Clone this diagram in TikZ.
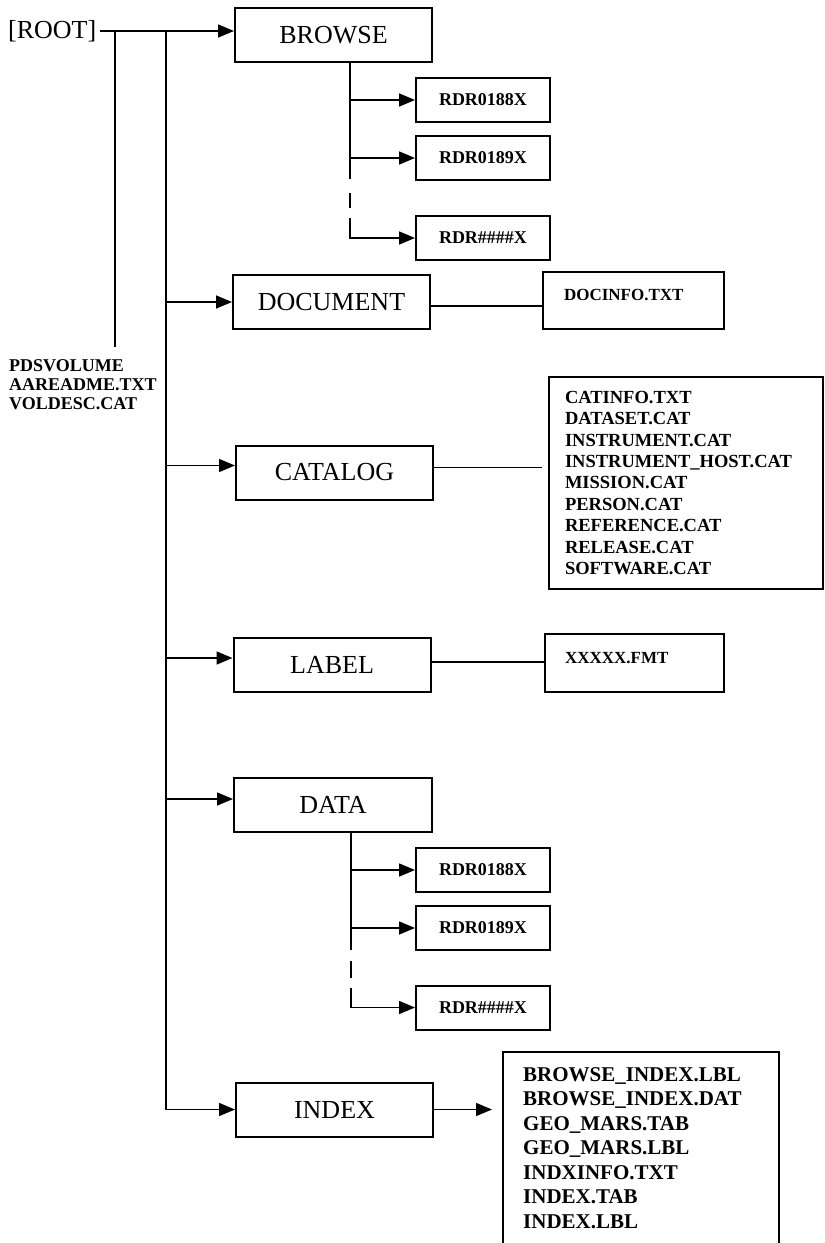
\documentclass[tikz,border=0pt]{standalone}
\usepackage{fontspec}
\setmainfont{Liberation Serif}
\usetikzlibrary{arrows.meta}
\tikzset{
    base/.style={align=center, inner sep=0pt},
    dirbox/.style={base, rectangle, draw, line width=2pt, minimum width=197pt,
                   minimum height=54pt, font=\fontsize{26pt}{30pt}\selectfont},
    subdir/.style={base, rectangle, draw, line width=2pt, minimum width=134pt,
                   minimum height=44pt, font=\bfseries\fontsize{18pt}{20pt}\selectfont},
    filebox/.style={base, rectangle, draw, line width=2pt, align=left,
                    font=\bfseries\fontsize{17pt}{20pt}\selectfont},
    flow/.style={-{Triangle[length=16pt, width=13pt]}, line width=1.6pt},
    link/.style={line width=1.6pt}
}

\begin{document}
\begin{tikzpicture}[x=1pt, y=-1pt]
  \useasboundingbox (0,0) rectangle (825,1243);

  % root and volume files
  \node[base, anchor=west, inner xsep=4pt, font=\fontsize{26pt}{30pt}\selectfont] (root) at (4,31) {[ROOT]};
  \node[base, anchor=north west, align=left, font=\bfseries\fontsize{18pt}{19pt}\selectfont] (volfiles) at (9,359) {
    PDSVOLUME\\
    AAREADME.TXT\\
    VOLDESC.CAT
  };

  % top level directories
  \node[dirbox] (browse) at (333.5,35) {BROWSE};
  \node[dirbox] (document) at (331.5,302) {DOCUMENT};
  \node[dirbox] (catalog) at (334.5,472.5) {CATALOG};
  \node[dirbox] (label) at (332,665) {LABEL};
  \node[dirbox, minimum width=198pt] (data) at (333,805) {DATA};
  \node[dirbox] (index) at (334.5,1109.5) {INDEX};

  % browse sub directories
  \node[subdir] (b1) at (483,100) {RDR0188X};
  \node[subdir] (b2) at (483,158) {RDR0189X};
  \node[subdir] (b3) at (483,238) {RDR\#\#\#\#X};

  % data sub directories
  \node[subdir] (d1) at (483,870) {RDR0188X};
  \node[subdir] (d2) at (483,928) {RDR0189X};
  \node[subdir] (d3) at (483,1007.5) {RDR\#\#\#\#X};

  % file lists
  \node[filebox, minimum width=181pt, inner xsep=21pt, text width=139pt,
        text height=28pt, text depth=29pt] (docinfo) at (633.5,300.5) {DOCINFO.TXT};
  \node[filebox, minimum width=179pt, inner xsep=20pt, text width=139pt,
        text height=29pt, text depth=29pt] (fmtfile) at (634.5,663) {XXXXX.FMT};
  \node[filebox, font=\bfseries\fontsize{18.5pt}{21.4pt}\selectfont, inner xsep=16pt,
        text width=242pt, minimum height=212pt] (catfiles) at (686,483) {
    CATINFO.TXT\\
    DATASET.CAT\\
    INSTRUMENT.CAT\\
    INSTRUMENT\_HOST.CAT\\
    MISSION.CAT\\
    PERSON.CAT\\
    REFERENCE.CAT\\
    RELEASE.CAT\\
    SOFTWARE.CAT
  };
  \node[base, anchor=north west, align=left, font=\bfseries\fontsize{21pt}{24.5pt}\selectfont,
        inner xsep=20pt, text width=236pt, minimum height=191pt] (indexfiles) at (503,1052) {
    BROWSE\_INDEX.LBL\\
    BROWSE\_INDEX.DAT\\
    GEO\_MARS.TAB\\
    GEO\_MARS.LBL\\
    INDXINFO.TXT\\
    INDEX.TAB\\
    INDEX.LBL
  };
  \draw[line width=2pt] (indexfiles.south west) -- (indexfiles.north west)
    -- (indexfiles.north east) -- (indexfiles.south east);

  % spines
  \coordinate (voltap) at (115,31);
  \coordinate (volend) at (115,347);
  \coordinate (trunk) at (166,31);
  \draw[flow] (root.east) -- (root.east -| browse.west);
  \draw[link] (voltap) -- (volend);
  \draw[link] (trunk) -- (trunk |- index.west);

  % branches to top level directories
  \coordinate (catin) at ([yshift=7pt]catalog.west);
  \coordinate (labin) at ([yshift=7pt]label.west);
  \coordinate (datin) at ([yshift=6pt]data.west);
  \draw[flow] (trunk |- document.west) -- (document.west);
  \draw[flow] (trunk |- catin) -- (catin);
  \draw[flow] (trunk |- labin) -- (labin);
  \draw[flow] (trunk |- datin) -- (datin);
  \draw[flow] (trunk |- index.west) -- (index.west);

  % links to file lists
  \coordinate (docout) at ([yshift=-4pt]document.east);
  \coordinate (catout) at ([yshift=5pt]catalog.east);
  \coordinate (labout) at ([yshift=3pt]label.east);
  \draw[link] (docout) -- (docout -| docinfo.west);
  \draw[link, shorten >=6pt] (catout) -- (catout -| catfiles.west);
  \draw[link] (labout) -- (labout -| fmtfile.west);
  \draw[flow, shorten >=11pt] (index.east) -- (index.east -| indexfiles.west);

  % browse branches
  \coordinate (bspine) at ([xshift=16.5pt]browse.south);
  \draw[flow] (bspine) |- (b1.west);
  \draw[flow] (bspine) |- (b2.west);
  \draw[flow, dash pattern=on 116pt off 14pt on 15pt off 10pt on 300pt] (bspine) |- (b3.west);

  % data branches
  \coordinate (dspine) at ([xshift=18pt]data.south);
  \draw[flow] (dspine) |- (d1.west);
  \draw[flow] (dspine) |- (d2.west);
  \draw[flow, dash pattern=on 117pt off 11pt on 17pt off 10pt on 300pt] (dspine) |- (d3.west);
\end{tikzpicture}
\end{document}
